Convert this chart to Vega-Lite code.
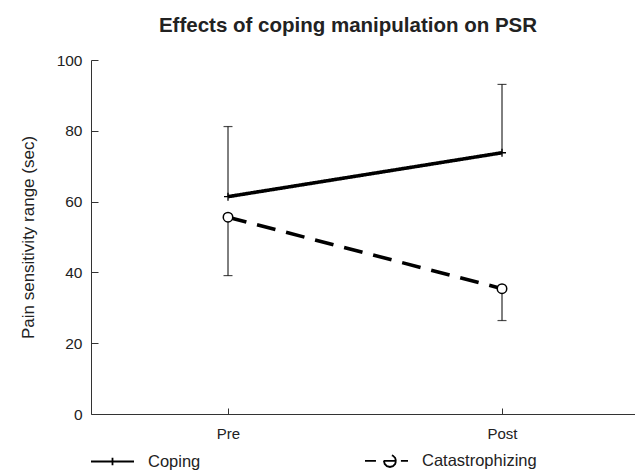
{
  "$schema": "https://vega.github.io/schema/vega-lite/v6.json",
  "autosize": "none",
  "width": 548,
  "height": 354,
  "padding": {"left": 91, "top": 60, "right": 0, "bottom": 58},
  "background": "white",
  "title": {
    "text": "Effects of coping manipulation on PSR",
    "font": "Liberation Sans",
    "fontSize": 20.5,
    "fontWeight": "bold",
    "color": "#222222",
    "anchor": "middle",
    "frame": "group",
    "dx": -17,
    "offset": 17
  },
  "data": {
    "values": [
      {"time": "Pre", "group": "Coping", "mean": 61.4, "bound": 81.2},
      {"time": "Post", "group": "Coping", "mean": 73.8, "bound": 93.1},
      {"time": "Pre", "group": "Catastrophizing", "mean": 55.6, "bound": 39.1},
      {"time": "Post", "group": "Catastrophizing", "mean": 35.4, "bound": 26.4}
    ]
  },
  "encoding": {
    "x": {
      "field": "time",
      "type": "nominal",
      "sort": ["Pre", "Post"],
      "scale": {"type": "point", "padding": 0.5},
      "axis": {
        "title": null,
        "labelAngle": 0,
        "labelFont": "Liberation Sans",
        "labelFontSize": 15,
        "labelColor": "#222222",
        "labelPadding": 18,
        "tickSize": -6,
        "tickColor": "#333333",
        "domainColor": "#333333",
        "grid": false
      }
    }
  },
  "layer": [
    {
      "mark": {"type": "rule", "strokeWidth": 1},
      "encoding": {
        "y": {
          "field": "mean",
          "type": "quantitative",
          "scale": {"domain": [0, 100]},
          "axis": {
            "title": "Pain sensitivity range (sec)",
            "titleFont": "Liberation Sans",
            "titleFontSize": 17,
            "titleFontWeight": "normal",
            "titleColor": "#222222",
            "titlePadding": 19,
            "values": [0, 20, 40, 60, 80, 100],
            "labelFont": "Liberation Sans",
            "labelFontSize": 15.5,
            "labelColor": "#222222",
            "labelPadding": 16,
            "tickSize": -7,
            "tickColor": "#333333",
            "domainColor": "#333333",
            "grid": false
          }
        },
        "y2": {"field": "bound"},
        "color": {
          "field": "group",
          "type": "nominal",
          "scale": {"domain": ["Coping", "Catastrophizing"], "range": ["black", "black"]},
          "legend": {
            "title": null,
            "orient": "none",
            "direction": "horizontal",
            "legendX": -1,
            "legendY": 378,
            "symbolSize": 1849,
            "symbolStrokeWidth": 1.8,
            "labelFont": "Liberation Sans",
            "labelFontSize": 16.5,
            "labelColor": "#222222",
            "labelOffset": 13,
            "columnPadding": 160,
            "encode": {
              "symbols": {
                "update": {
                  "shape": {"signal": "datum.value === 'Coping' ? 'M-1,0H1M0,-0.18V0.18' : 'M-1,0H-0.49M-0.12,0H0.44M0.44,0L0.4025,0.14L0.3,0.2425L0.16,0.28L0.02,0.2425L-0.0825,0.14L-0.12,0L-0.0825,-0.14L0.02,-0.2425L0.16,-0.28L0.3,-0.2425L0.4025,-0.14L0.44,0M0.67,0H1'"},
                  "strokeWidth": {"value": 1.8},
                  "stroke": {"value": "black"},
                  "fill": {"value": "transparent"}
                }
              }
            }
          }
        }
      }
    },
    {
      "mark": {"type": "tick", "color": "black", "size": 9, "thickness": 1.2, "orient": "horizontal"},
      "encoding": {
        "y": {"field": "bound", "type": "quantitative"}
      }
    },
    {
      "mark": {"type": "line", "color": "black", "strokeWidth": 3.6},
      "encoding": {
        "y": {"field": "mean", "type": "quantitative"},
        "detail": {"field": "group"},
        "strokeDash": {
          "field": "group",
          "type": "nominal",
          "scale": {"domain": ["Coping", "Catastrophizing"], "range": [[1, 0], [19, 11]]},
          "legend": null
        }
      }
    },
    {
      "transform": [{"filter": "datum.group === 'Coping'"}],
      "mark": {"type": "point", "shape": "M-1,0H1M0,-1V1", "size": 64, "filled": false, "color": "black", "strokeWidth": 1.3, "opacity": 1},
      "encoding": {
        "y": {"field": "mean", "type": "quantitative"}
      }
    },
    {
      "transform": [{"filter": "datum.group === 'Catastrophizing'"}],
      "mark": {"type": "point", "shape": "circle", "size": 90, "filled": true, "fill": "white", "stroke": "black", "strokeWidth": 1.5, "opacity": 1},
      "encoding": {
        "y": {"field": "mean", "type": "quantitative"}
      }
    }
  ],
  "config": {
    "view": {"stroke": null}
  }
}
